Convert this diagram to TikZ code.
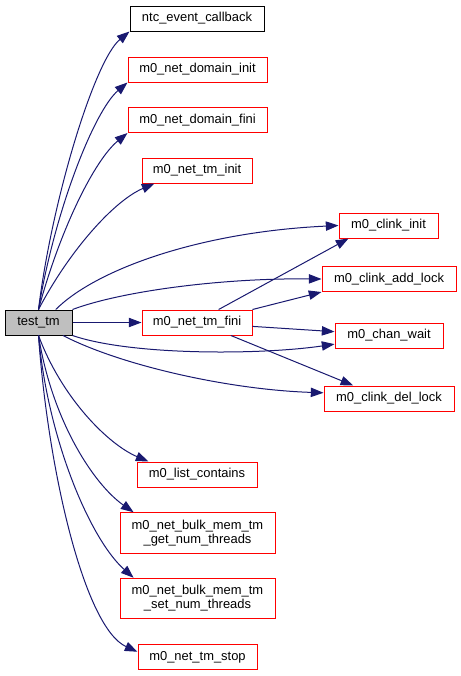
\documentclass[tikz,border=0pt]{standalone}
\usepackage{fontspec}
\setmainfont{Liberation Sans}
\usepackage{tikz}
\usepackage{xcolor}
\usetikzlibrary{arrows.meta}
\definecolor{edgeblue}{HTML}{191970}
\definecolor{rootgray}{HTML}{BFBFBF}
\tikzset{
	fn/.style={draw=red,line width=0.75pt,inner sep=0pt,minimum height=18.75pt,
		font=\fontsize{9.7}{10.5}\selectfont,align=center},
	root/.style={fn,draw=black,fill=rootgray},
	plain/.style={fn,draw=black},
	call/.style={draw=edgeblue,line width=0.75pt,-{Triangle[length=9.5pt,width=7pt,fill=edgeblue]}}
}
\begin{document}
\begin{tikzpicture}[x=0.75pt,y=0.75pt]

%
\useasboundingbox (0,0) rectangle (461,-676);
\node[root,minimum width=50.25pt] (test) at (38.5,-322.5) {test\_tm};
\node[plain,minimum width=100.5pt] (ntc) at (197,-18.5) {ntc\_event\_callback};
\node[fn,minimum width=104.25pt] (dinit) at (197.5,-69.5) {m0\_net\_domain\_init};
\node[fn,minimum width=104.25pt] (dfini) at (197.5,-120) {m0\_net\_domain\_fini};
\node[fn,minimum width=82.5pt] (tinit) at (197,-170.5) {m0\_net\_tm\_init};
\node[fn,minimum width=82.5pt] (tfini) at (197,-322.5) {m0\_net\_tm\_fini};
\node[fn,minimum width=74.25pt] (cinit) at (388.5,-225.5) {m0\_clink\_init};
\node[fn,minimum width=100.5pt] (cadd) at (389,-279) {m0\_clink\_add\_lock};
\node[fn,minimum width=81pt] (cwait) at (389,-335.5) {m0\_chan\_wait};
\node[fn,minimum width=97.5pt] (cdel) at (389,-398.5) {m0\_clink\_del\_lock};
\node[fn,minimum width=90pt] (lcont) at (197,-474.5) {m0\_list\_contains};
\node[fn,minimum width=116.25pt,minimum height=30.4pt] (getn) at (197.5,-533) {m0\_net\_bulk\_mem\_tm\\\_get\_num\_threads};
\node[fn,minimum width=116.25pt,minimum height=30.4pt] (setn) at (197.5,-598.5) {m0\_net\_bulk\_mem\_tm\\\_set\_num\_threads};
\node[fn,minimum width=89.25pt] (tstop) at (197.5,-657) {m0\_net\_tm\_stop};

% calls of test_tm
\draw[call] (test.north) .. controls +(13.5,110) and +(-35,-29) .. (ntc.south west);
\draw[call] (test.north) .. controls +(16.5,100) and +(-33,-28) .. (dinit.south west);
\draw[call] (test.north) .. controls +(21.5,80) and +(-33,-27) .. (dfini.south west);
\draw[call] (test.north) .. controls +(31.5,60) and +(-40,-17) .. (tinit.197);
\draw[call] (test.37) .. controls +(40,40) and +(-139,-6.5) .. (cinit.west);
\draw[call] (test.north east) .. controls +(48,18) and +(-102,1) .. (cadd.west);
\draw[call] (test.east) -- (tfini.west);
\draw[call] (test.south east) .. controls +(58,-20) and +(-75,-11) .. (cwait.189);
\draw[call] (test.332) .. controls +(58,-30) and +(-94,3) .. (cdel.175);
\draw[call] (test.south) .. controls +(23.5,-63) and +(-40,17) .. (lcont.165);
\draw[call] (test.south) .. controls +(13.5,-85) and +(-40,28) .. (getn.162);
\draw[call] (test.south) .. controls +(9.5,-105) and +(-43,38) .. (setn.162);
\draw[call] (test.south) .. controls +(9.5,-135) and +(-53,24) .. (tstop.175);

% calls of m0_net_tm_fini
\draw[call] (tfini.31) -- (cinit.198);
\draw[call] (tfini.north east) -- (cadd.south west);
\draw[call] (tfini.356) -- (cwait.176);
\draw[call] (tfini.339) -- (cdel.160);

\end{tikzpicture}
\end{document}
